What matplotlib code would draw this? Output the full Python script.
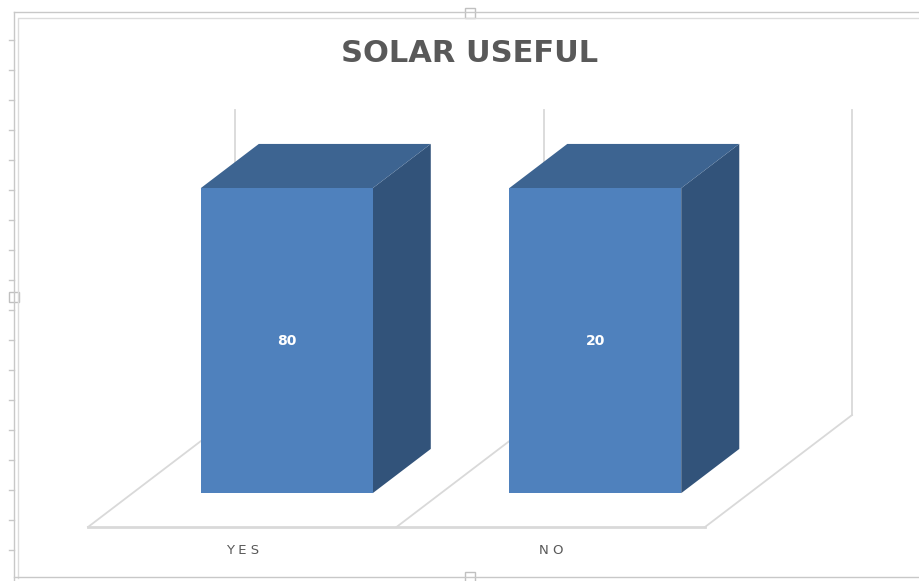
import numpy as np
import matplotlib.pyplot as plt
from matplotlib.patches import Polygon, Rectangle

categories = ['YES', 'NO']
values = [80, 20]
title = 'SOLAR USEFUL'

# Excel 100% stacked 3-D column with a single series:
# every category total is its own value, so each column fills the wall.
totals = values
shares = [v / t * 100 for v, t in zip(values, totals)]

FRONT = '#4f81bd'
TOP = '#3d6491'
SIDE = '#32537a'
GRID = '#d9d9d9'
TEXT = '#595959'

# oblique projection of the 3-D box (x in category units, y in percent)
depth_dx, depth_dy = 0.4765, 36.7
bar_width = 0.5575
bar_d0, bar_d1 = 0.3025, 0.6975

fig = plt.figure(figsize=(9.19, 5.81), dpi=100)
ax = fig.add_axes([0, 0, 1, 1])
ax.set_xlim(-0.2853, 2.6937)
ax.set_ylim(-17.70, 172.79)
ax.axis('off')

n = len(categories)

# floor (front edge, side edges and category dividers, no back edge)
ax.plot([0, n], [0, 0], color=GRID, lw=2, zorder=1)
for i in range(n + 1):
    ax.plot([i, i + depth_dx], [0, depth_dy], color=GRID, lw=1.3, zorder=1)

# back wall gridlines
for i in range(n + 1):
    ax.plot([i + depth_dx] * 2, [depth_dy, depth_dy + 100], color=GRID, lw=1.3, zorder=1)

# columns
bdx = (bar_d1 - bar_d0) * depth_dx
bdy = (bar_d1 - bar_d0) * depth_dy
for i, (cat, val, h) in enumerate(zip(categories, values, shares)):
    xl = i + (1 - bar_width) / 2 + bar_d0 * depth_dx
    xr = xl + bar_width
    y0 = bar_d0 * depth_dy
    ax.add_patch(Polygon([(xr, y0), (xr + bdx, y0 + bdy), (xr + bdx, y0 + h + bdy), (xr, y0 + h)],
                         closed=True, facecolor=SIDE, edgecolor='none', zorder=3))
    ax.add_patch(Polygon([(xl, y0 + h), (xr, y0 + h), (xr + bdx, y0 + h + bdy), (xl + bdx, y0 + h + bdy)],
                         closed=True, facecolor=TOP, edgecolor='none', zorder=3))
    ax.add_patch(Rectangle((xl, y0), bar_width, h, facecolor=FRONT, edgecolor='none', zorder=4))
    ax.text(xl + bar_width / 2, y0 + h / 2, str(val), color='white', fontsize=10,
            fontweight='bold', ha='center', va='center', zorder=5)
    ax.text(i + 0.5, -7.6, ' '.join(cat), color=TEXT, fontsize=9.5, ha='center', va='center')

fig.text(470 / 919, 1 - 54 / 581, title, color=TEXT, fontsize=22, fontweight='bold',
         ha='center', va='center')

# chart frame from the screenshot
ov = fig.add_axes([0, 0, 1, 1], zorder=-1)
ov.set_xlim(0, 919)
ov.set_ylim(581, 0)
ov.axis('off')
ov.plot([14, 14], [12, 581], color='#c8c8c8', lw=1)
ov.plot([18, 18, 919], [578, 18, 18], color='#dcdcdc', lw=1)
ov.plot([14, 919], [12, 12], color='#c8c8c8', lw=1)
ov.plot([14, 919], [577, 577], color='#c8c8c8', lw=1)
for y in range(40, 570, 30):
    ov.plot([9, 14], [y, y], color='#c8c8c8', lw=1)
for x, y in [(470, 13), (14, 297), (470, 577)]:
    ov.add_patch(Rectangle((x - 5, y - 5), 10, 10, facecolor='white', edgecolor='#c0c0c0', lw=1))

fig.savefig('out.png', dpi=100)
